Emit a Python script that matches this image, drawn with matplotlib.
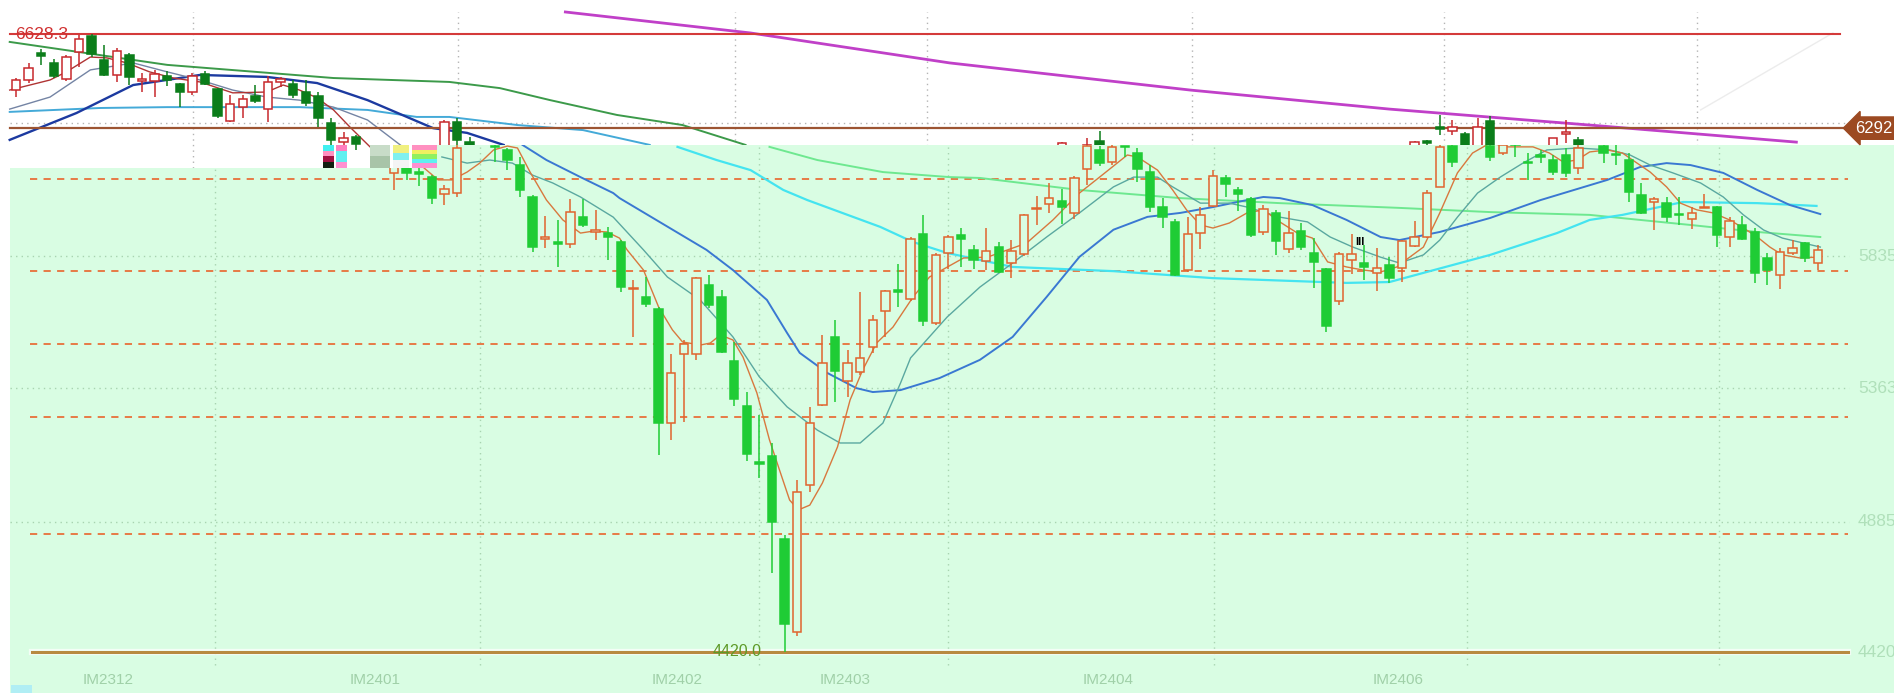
import numpy as np
import matplotlib.pyplot as plt
from matplotlib.patches import Polygon, Rectangle

plt.rcParams['font.family'] = ['Liberation Sans', 'DejaVu Sans']

# ---- upper (white) layer: visible candles  [index, open, high, low, close]
top_idx = [0, 1, 2, 3, 4, 5, 6, 7, 8, 9, 10, 11, 12, 13, 14, 15, 16, 17, 18, 19, 20,
           21, 22, 23, 24, 25, 26, 27, 34, 35, 36, 83, 85, 86,
           111, 112, 113, 114, 115, 116, 117, 122, 123, 124]
top_open = [6428, 6464, 6560, 6525, 6468, 6564, 6621, 6535, 6482, 6553, 6460, 6460, 6478,
            6450, 6421, 6485, 6432, 6317, 6367, 6407, 6360, 6457, 6450, 6421, 6407, 6310,
            6242, 6260, 6200, 6314, 6242, 6200, 6180, 6246,
            6200, 6246, 6296, 6282, 6271, 6200, 6317, 6200, 6271, 6250]
top_high = [6471, 6525, 6575, 6539, 6553, 6625, 6628.3, 6589, 6578, 6560, 6489, 6500, 6496,
            6453, 6489, 6496, 6435, 6410, 6410, 6446, 6478, 6475, 6464, 6464, 6421, 6328,
            6278, 6267, 6321, 6328, 6260, 6242, 6257, 6282,
            6246, 6250, 6339, 6321, 6278, 6328, 6335, 6257, 6321, 6260]
top_low = [6403, 6453, 6518, 6471, 6460, 6510, 6546, 6478, 6457, 6446, 6421, 6403, 6443,
           6367, 6410, 6446, 6328, 6314, 6328, 6382, 6314, 6439, 6400, 6371, 6296, 6225,
           6225, 6214, 6180, 6214, 6220, 6180, 6150, 6170,
           6180, 6180, 6267, 6267, 6180, 6180, 6180, 6180, 6239, 6180]
top_close = [6464, 6507, 6550, 6478, 6546, 6610, 6557, 6482, 6568, 6475, 6468, 6485, 6464,
             6421, 6478, 6450, 6335, 6378, 6396, 6389, 6457, 6468, 6410, 6382, 6328, 6250,
             6257, 6235, 6314, 6250, 6232, 6239, 6232, 6190,
             6242, 6239, 6289, 6296, 6200, 6296, 6200, 6257, 6278, 6200]

# ---- lower (green) layer: visible candles
low_idx = [30, 31, 32, 33, 34, 35, 38, 39, 40, 41, 42, 43, 44, 45, 46, 47, 48, 49, 50,
           51, 52, 53, 54, 55, 56, 57, 58, 59, 60, 61, 62, 63, 64, 65, 66, 67, 68, 69, 70,
           71, 72, 73, 74, 75, 76, 77, 78, 79, 80, 81, 82, 83, 84, 85, 86, 87, 88, 89, 90,
           91, 92, 93, 94, 95, 96, 97, 98, 99, 100, 101, 102, 103, 104, 105, 106, 107, 108,
           109, 110, 111, 112, 113, 114, 117, 118, 119, 120, 121, 122, 123, 124, 126, 127,
           128, 129, 130, 131, 132, 133, 134, 135, 136, 137, 138, 139, 140, 141, 142, 143]
low_open = [6132, 6160, 6135, 6117, 6057, 6060, 6228, 6214, 6160, 6046, 5896, 5885, 5878,
            5974, 5921, 5917, 5885, 5717, 5689, 5646, 5238, 5485, 5485, 5731, 5689, 5460,
            5299, 5099, 5120, 4824, 4492, 5017, 5303, 5546, 5388, 5421, 5510, 5639, 5714,
            5681, 5914, 5596, 5846, 5910, 5857, 5817, 5867, 5810, 5842, 6003, 6021, 6032,
            5989, 6146, 6214, 6171, 6228, 6203, 6135, 6010, 5957, 5785, 5917, 6014, 6114,
            6071, 6039, 5921, 5989, 5860, 5924, 5846, 5789, 5674, 5821, 5810, 5774, 5803,
            5792, 5871, 5903, 6082, 6228, 6228, 6203, 6236, 6171, 6196, 6178, 6196, 6150,
            6228, 6200, 6178, 6053, 6028, 6024, 5985, 5967, 6008, 6010, 5903, 5946, 5921,
            5828, 5767, 5846, 5882, 5810]
low_high = [6170, 6170, 6150, 6124, 6089, 6232, 6232, 6221, 6189, 6053, 5978, 5964, 6039,
            6039, 6000, 5939, 5892, 5749, 5760, 5653, 5485, 5535, 5760, 5767, 5714, 5528,
            5349, 5267, 5167, 4838, 5035, 5296, 5553, 5606, 5499, 5706, 5624, 5714, 5807,
            5903, 5982, 5846, 5910, 5935, 5874, 5935, 5885, 5892, 5985, 6049, 6096, 6074,
            6121, 6242, 6228, 6232, 6228, 6221, 6160, 6042, 5967, 5974, 6010, 6142, 6124,
            6082, 6046, 6017, 6000, 5996, 5953, 5899, 5792, 5849, 5914, 5874, 5864, 5832,
            5892, 5960, 6071, 6239, 6232, 6235, 6235, 6250, 6203, 6214, 6196, 6221, 6232,
            6232, 6232, 6203, 6096, 6046, 6046, 6046, 6010, 6057, 6012, 5974, 5978, 5935,
            5846, 5864, 5892, 5885, 5874]
low_low = [6071, 6107, 6085, 6021, 6017, 6046, 6171, 6142, 6046, 5849, 5864, 5796, 5864,
           5939, 5892, 5821, 5706, 5546, 5653, 5124, 5178, 5242, 5464, 5649, 5490, 5299,
           5103, 5042, 4702, 4420, 4477, 4992, 5300, 5313, 5331, 5410, 5490, 5546, 5653,
           5674, 5585, 5589, 5789, 5796, 5789, 5785, 5774, 5756, 5835, 5946, 5989, 5949,
           5967, 6089, 6157, 6160, 6189, 6099, 5992, 5935, 5764, 5778, 5860, 6010, 6046,
           5996, 5903, 5910, 5839, 5846, 5857, 5721, 5564, 5660, 5771, 5749, 5710, 5739,
           5742, 5867, 5900, 6080, 6153, 6175, 6196, 6189, 6107, 6167, 6124, 6117, 6128,
           6167, 6160, 6028, 5985, 5928, 5957, 5946, 5932, 6005, 5867, 5867, 5892, 5739,
           5731, 5717, 5839, 5814, 5785]
low_close = [6160, 6132, 6128, 6042, 6075, 6221, 6225, 6178, 6071, 5867, 5903, 5878, 5992,
             5946, 5928, 5903, 5724, 5721, 5664, 5238, 5417, 5521, 5756, 5660, 5492, 5324,
             5128, 5092, 4885, 4520, 4992, 5238, 5453, 5424, 5453, 5471, 5606, 5710, 5706,
             5896, 5603, 5839, 5903, 5896, 5821, 5853, 5778, 5853, 5982, 6007, 6042, 6010,
             6114, 6228, 6167, 6225, 6225, 6146, 6010, 5974, 5767, 5914, 5982, 6121, 6092,
             6057, 5910, 6003, 5889, 5917, 5867, 5814, 5585, 5842, 5842, 5796, 5792, 5756,
             5889, 5903, 6060, 6225, 6171, 6189, 6232, 6232, 6167, 6189, 6135, 6132, 6221,
             6203, 6196, 6064, 5989, 6039, 5974, 5982, 5989, 6011, 5910, 5960, 5896, 5774,
             5785, 5849, 5864, 5828, 5857]

# ---- moving-average lines  (index, price)
top_ma5_x = [-0.5, 2.7, 4.0, 5.9, 7.2, 8.8, 10.6, 12.5, 14.6, 17.2, 19.9, 21.2, 22.5, 23.9, 25.2, 26.5, 28.1]
top_ma5_y = [6428, 6464, 6493, 6546, 6543, 6525, 6493, 6471, 6457, 6418, 6421, 6446, 6428, 6400, 6357, 6296, 6225]
top_ma10_x = [-0.5, 2.7, 5.9, 9.3, 12.0, 14.6, 17.2, 19.9, 22.5, 25.2, 27.9, 30.7]
top_ma10_y = [6360, 6403, 6500, 6525, 6493, 6464, 6428, 6403, 6392, 6367, 6321, 6225]
top_ma20_x = [-0.5, 4.8, 9.3, 14.6, 19.9, 23.9, 27.9, 33.1, 35.8, 38.7]
top_ma20_y = [6250, 6346, 6446, 6482, 6475, 6453, 6392, 6292, 6275, 6232]
top_ma30_x = [-0.5, 6.7, 12.0, 22.5, 27.9, 31.8, 34.4, 39.8, 45.0, 50.3]
top_ma30_y = [6350, 6364, 6367, 6367, 6357, 6332, 6332, 6303, 6285, 6232]
top_ma60_x = [-0.5, 12.0, 25.2, 34.4, 38.4, 42.4, 47.7, 52.9, 57.9]
top_ma60_y = [6600, 6518, 6471, 6457, 6435, 6392, 6339, 6303, 6232]
top_ma120_x = [43.6, 58.3, 74.1, 93.2, 109.0, 124.9, 141.3]
top_ma120_y = [6707, 6632, 6525, 6428, 6360, 6303, 6242]

ma5_x = [32.3, 33.5, 34.6, 35.8, 36.8, 37.9, 39.0, 39.8, 40.8, 42.1, 43.4, 44.8, 45.8, 46.9,
         47.9, 48.5, 49.8, 51.0, 52.1, 52.9, 54.3, 55.1, 55.9, 56.9, 57.7, 58.8, 59.8, 60.6,
         61.4, 62.1, 63.0, 64.0, 65.2, 66.2, 67.2, 68.3, 69.6, 71.2, 72.5, 75.2, 77.1, 78.7,
         80.2, 82.3, 84.4, 86.0, 88.2, 89.0, 90.6, 91.8, 92.9, 94.0, 95.0, 96.3, 97.7, 99.0,
         100.3, 101.7, 102.9, 104.1, 105.6, 106.9, 108.3, 109.6, 110.1, 111.7, 113.0, 114.4,
         115.6, 117.0, 118.4, 120.4, 121.7, 122.8, 123.9, 124.9, 126.3, 127.5, 128.3, 129.7,
         131.0, 132.1, 133.4, 134.7, 136.0, 137.1, 138.2, 139.2, 140.2, 141.6, 142.9]
ma5_y = [6153, 6107, 6107, 6135, 6167, 6214, 6228, 6221, 6135, 6035, 5964, 5917, 5924, 5921,
         5899, 5857, 5785, 5653, 5571, 5528, 5517, 5524, 5553, 5535, 5474, 5346, 5178, 5070,
         4963, 4928, 4945, 5024, 5153, 5321, 5428, 5524, 5581, 5689, 5760, 5828, 5831, 5857,
         5881, 5964, 6060, 6117, 6196, 6189, 6142, 6071, 6000, 5946, 5935, 5953, 5989, 6000,
         5957, 5917, 5899, 5814, 5796, 5785, 5778, 5796, 5814, 5867, 5989, 6132,
         6203, 6239, 6225, 6225, 6203, 6171, 6178, 6207, 6214, 6203, 6178, 6135,
         6082, 6024, 6000, 5989, 5964, 5935, 5903, 5867, 5839, 5828, 5831]
ma10_x = [33.8, 35.8, 37.6, 39.4, 41.0, 42.6, 44.8, 47.4, 49.8, 51.7, 54.3, 56.9, 59.0, 61.2,
          63.6, 65.4, 67.0, 68.8, 70.2, 71.0, 73.9, 76.5, 79.1, 81.8, 84.4, 87.1, 88.7, 90.6,
          91.8, 94.0, 96.3, 97.7, 100.3, 102.5, 104.3, 106.1, 108.3, 109.8, 111.7, 113.0,
          114.4, 116.0, 117.8, 119.6, 121.5, 123.9, 126.5, 128.1, 129.7, 131.5, 133.7, 135.5,
          137.1, 138.7, 140.2, 143.2]
ma10_y = [6189, 6167, 6178, 6167, 6124, 6096, 6046, 5974, 5857, 5760, 5678, 5546, 5403, 5296,
          5213, 5167, 5167, 5238, 5381, 5471, 5617, 5724, 5810, 5903, 5989, 6082, 6117, 6117,
          6082, 6024, 6024, 6010, 5974, 5957, 5903, 5867, 5831, 5810, 5839, 5892,
          5974, 6060, 6117, 6167, 6214, 6221, 6214, 6196, 6160, 6132, 6096, 6046,
          5982, 5928, 5899, 5867]
ma20_x = [40.2, 42.1, 44.8, 47.4, 47.9, 54.8, 56.9, 59.6, 61.2, 62.2, 64.4, 66.7, 68.0, 70.2,
          73.3, 76.5, 79.1, 81.8, 84.4, 87.1, 89.8, 92.4, 95.0, 97.7, 99.0, 100.3, 102.9, 105.6,
          108.3, 109.8, 113.0, 117.0, 121.0, 126.3, 128.9, 131.0, 132.9, 135.5, 138.2, 140.8, 143.2]
ma20_y = [6232, 6178, 6117, 6060, 6042, 5857, 5785, 5678, 5560, 5489, 5417, 5363, 5349, 5356,
          5399, 5464, 5546, 5689, 5832, 5929, 5975, 5989, 6010, 6035, 6046, 6042, 6017, 5964,
          5903, 5892, 5921, 5971, 6035, 6107, 6153, 6167, 6160, 6132, 6071, 6017, 5985]
ma30_x = [52.5, 55.6, 58.3, 60.9, 62.8, 68.6, 71.2, 73.9, 79.1, 87.1, 95.0, 105.6, 109.0,
          117.0, 122.3, 124.9, 127.5, 132.3, 138.2, 142.9]
ma30_y = [6225, 6178, 6142, 6071, 6035, 5939, 5885, 5846, 5796, 5781, 5756, 5739, 5742,
          5839, 5917, 5964, 5982, 6028, 6024, 6014]
ma60_x = [59.8, 63.6, 68.8, 74.1, 76.5, 84.4, 92.4, 100.3, 109.8, 117.0, 124.9, 132.9, 138.2, 143.2]
ma60_y = [6225, 6178, 6135, 6117, 6114, 6071, 6042, 6024, 6007, 5992, 5982, 5946, 5921, 5903]

# ---- reference levels, grid and labels
high_mark = 6628.3
low_mark = 4420.0
last_mark = 6292
top_grid_level = 6310
dash_levels = [6110, 5782, 5521, 5261, 4842]
grid_levels = [5835, 5363, 4885]
price_labels = ['5835', '5363', '4885', '4420']
price_label_levels = [5835, 5363, 4885, 4420]
top_vgrid = [14.05, 35.1, 57.1, 72.3, 93.3, 113.3, 133.4]
low_vgrid = [15.8, 36.8, 59.0, 74.0, 95.1, 115.2, 135.2]
month_labels = ['IM2312', 'IM2401', 'IM2402', 'IM2403', 'IM2404', 'IM2406']
month_pos = [7.3, 28.5, 52.5, 65.8, 86.7, 109.7]

mint = '#d9fde3'
up_low, down_low = '#e0642e', '#1fcc35'
up_top, down_top = '#c8282c', '#0b7d1a'

fig = plt.figure(figsize=(18.94, 6.93), dpi=100, facecolor='white')
ax = fig.add_axes([0, 0, 1, 1])
x0, x1 = -1.27, 149.05
y0, y1 = 4273.7, 6749.8
ax.set_xlim(x0, x1)
ax.set_ylim(y0, y1)
ax.axis('off')


def candles(idx, o, h, l, c, up_col, down_col, hollow, z, clip=None):
    idx = np.asarray(idx, float)
    o, h, l, c = (np.asarray(v, float) for v in (o, h, l, c))
    up = c >= o
    cols = np.where(up, up_col, down_col)
    w = ax.vlines(idx, l, h, colors=cols, lw=1.1, zorder=z)
    bottom = np.minimum(o, c)
    height = np.maximum(np.abs(c - o), 3)
    bars = ax.bar(idx, height, width=0.66, bottom=bottom,
                  color=np.where(up, hollow, down_col), edgecolor=cols,
                  linewidth=1.1, zorder=z + 0.1)
    if clip is not None:
        w.set_clip_path(clip)
        for b in bars:
            b.set_clip_path(clip)


# ---------- upper layer ----------
for v in top_vgrid:
    ax.plot([v, v], [6150, 6707], color='#b4b4b4', lw=1, ls=(0, (1, 3)), zorder=1)
ax.plot([-0.5, 145.5], [top_grid_level] * 2, color='#b4b4b4', lw=1, ls=(0, (1, 3)), zorder=1)
ax.plot(top_ma120_x, top_ma120_y, color='#c040c8', lw=2, zorder=2)
ax.plot(top_ma60_x, top_ma60_y, color='#3c9a4a', lw=1.4, zorder=2)
ax.plot(top_ma30_x, top_ma30_y, color='#44aad8', lw=1.4, zorder=2)
ax.plot(top_ma20_x, top_ma20_y, color='#1c3aa0', lw=1.7, zorder=2)
ax.plot(top_ma10_x, top_ma10_y, color='#7484a4', lw=1, zorder=2)
ax.plot(top_ma5_x, top_ma5_y, color='#b03434', lw=1, zorder=2)
ax.plot([133.7, 144.2], [6357, 6632], color='#ececec', lw=1, zorder=1)
ax.plot([-0.5, 144.8], [high_mark] * 2, color='#d43a3a', lw=1.5, zorder=2.5)
ax.plot([-0.5, 145.3], [last_mark] * 2, color='#9c5432', lw=1.6, zorder=2.5)
candles(top_idx, top_open, top_high, top_low, top_close, up_top, down_top, 'white', 3)

# colour-noise blocks of the screenshot
noise = [(24.4, 25.2, ['#40f0f0', '#ff90c0', '#a01040', '#102010']),
         (25.4, 26.3, ['#ff80c0', '#60f0f0', '#60f0f0', '#ff90d0']),
         (28.1, 29.7, ['#c8dcc8', '#a8c4a8']),
         (29.9, 31.2, ['#f0f080', '#80f0f0', '#f4f4f4']),
         (31.4, 33.4, ['#ff90c0', '#f0f060', '#90f060', '#60f0f0', '#ff90d0'])]
for a, b, cols in noise:
    step = (6232 - 6150) / len(cols)
    for k, col in enumerate(cols):
        ax.add_patch(Rectangle((a, 6232 - (k + 1) * step), b - a, step,
                               fc=col, ec='none', zorder=3.5))

# ---------- lower layer ----------
panel = Polygon([(-0.5, y0), (-0.5, 6150), (33.4, 6150), (33.4, 6232),
                 (x1, 6232), (x1, y0)], closed=True, fc=mint, ec='none', zorder=4)
ax.add_patch(panel)

lower = []
for v in low_vgrid:
    lower += ax.plot([v, v], [4374, 6232], color='#a8d4b0', lw=1, ls=(0, (1, 3)), zorder=5)
for lv in grid_levels:
    lower += ax.plot([-0.5, 145.5], [lv, lv], color='#a8d4b0', lw=1, ls=(0, (1, 3)), zorder=5)
for lv in dash_levels:
    lower += ax.plot([1.1, 145.4], [lv, lv], color='#e8703a', lw=1.3, ls=(0, (4, 3.5)), zorder=5)
lower += ax.plot([1.27, 145.4], [low_mark] * 2, color='white', lw=4.5, alpha=0.7, zorder=5)
lower += ax.plot([1.27, 145.4], [low_mark] * 2, color='#b88a40', lw=2.2, zorder=5.1)
lower += ax.plot(ma60_x, ma60_y, color='#6ee890', lw=1.4, zorder=6)
lower += ax.plot(ma30_x, ma30_y, color='#44e4f0', lw=1.6, zorder=6)
lower += ax.plot(ma20_x, ma20_y, color='#3a78d2', lw=1.4, zorder=6)
lower += ax.plot(ma10_x, ma10_y, color='#5aa8a0', lw=1, zorder=6)
lower += ax.plot(ma5_x, ma5_y, color='#d8783e', lw=1, zorder=6)
for ln in lower:
    ln.set_clip_path(panel)
candles(low_idx, low_open, low_high, low_low, low_close, up_low, down_low, mint, 7, clip=panel)

# ---------- texts ----------
ax.text(-0.08, high_mark, f'{high_mark:.1f}', color='#d03030', fontsize=12.5,
        va='center', ha='left', zorder=9)
ax.text(146.0, last_mark, f'{last_mark}', color='white', fontsize=12, va='center', ha='left',
        zorder=9, bbox=dict(boxstyle='larrow,pad=0.22', fc='#9c4a22', ec='#9c4a22'))
ax.text(57.2, low_mark + 3, f'{low_mark:.1f}', color='#5e9a28', fontsize=11.5,
        va='center', ha='center', zorder=9)
ax.text(106.7, 5885, 'III', color='black', fontsize=8, fontweight='bold',
        va='center', ha='center', zorder=9)
for lab, lv in zip(price_labels, price_label_levels):
    ax.text(146.2, lv, lab, color='#b0e0ba', fontsize=12.5, va='center', ha='left', zorder=9)
for lab, pos in zip(month_labels, month_pos):
    ax.text(pos, 4320, lab, color='#a0d0a8', fontsize=11, va='center', ha='center', zorder=9)
ax.add_patch(Rectangle((-0.4, y0), 1.7, 28, fc='#b0eef4', ec='none', zorder=9))

fig.savefig('out.png', dpi=100, facecolor='white')
